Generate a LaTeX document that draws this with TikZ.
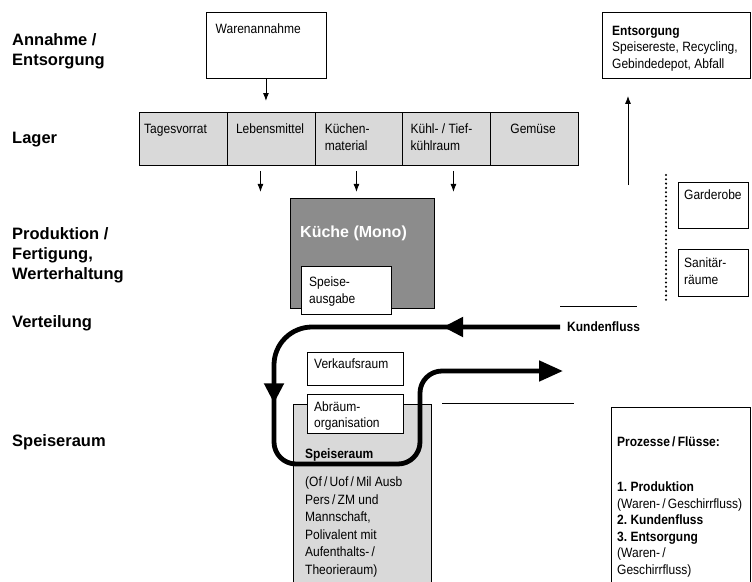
\documentclass[tikz,border=0pt]{standalone}
\usepackage{fontspec}
\setmainfont{Liberation Sans}[FakeStretch=0.89]
\newfontfamily\headfont{Liberation Sans}
\usetikzlibrary{arrows.meta,decorations.markings,positioning}
\definecolor{lagergrau}{gray}{0.85}
\definecolor{kuechengrau}{gray}{0.55}
\frenchspacing
\tikzset{
  box/.style={draw, line width=0.9pt, anchor=north west, inner sep=0pt},
  txt/.style={anchor=north west, inner xsep=8pt, inner ysep=11pt, align=left, font=\fontsize{13.5}{16.5}\selectfont},
  side/.style={anchor=north west, inner sep=0pt, align=left, font=\headfont\bfseries\fontsize{16.5}{20}\selectfont},
  arr/.style={line width=0.9pt, -{Latex[length=8pt,width=6pt]}},
  flow/.style={line width=4.8pt},
  flowtip/.style={-{Triangle[length=24pt,width=20pt]}},
  dotline/.style={line width=2.3pt, dash pattern=on 0pt off 4.3pt, line cap=round},
}
\begin{document}
\begin{tikzpicture}[x=1pt, y=-1pt]
\useasboundingbox (0,0) rectangle (752,581);

\node[side] (annahme) at (12,33) {Annahme /\\Entsorgung};
\node[side] (lager) at (12,132) {Lager};
\node[side] (produktion) at (12,227) {Produktion /\\Fertigung,\\Werterhaltung};
\node[side] (verteilung) at (12,315) {Verteilung};
\node[side] (speisesaal) at (12,434) {Speiseraum};

\node[box, minimum width=120pt, minimum height=66pt,
  label={[txt, inner xsep=10pt, inner ysep=12pt]north west:Warenannahme}] (waren) at (205.5,12) {};

\foreach \name/\dx [count=\i from 0] in {Tagesvorrat/5, Lebensmittel/9, {Küchen-\\material}/10, {Kühl- / Tief-\\kühlraum}/8, Gemüse/20}
  \node[box, fill=lagergrau, minimum width=87.8pt, minimum height=53pt,
    label={[txt, inner xsep=\dx pt, inner ysep=12pt]north west:\name}] (lager\i) at (139+87.8*\i,112) {};

\draw[arr] (waren.south) -- ([yshift=11pt]waren.south |- lager0.north);
\foreach \i/\dx in {1/-10.7, 2/-2.5, 3/6.7}
  \draw[arr] ([xshift=\dx pt, yshift=-5pt]lager\i.south) -- ([xshift=\dx pt, yshift=-26pt]lager\i.south);

\node[box, fill=kuechengrau, minimum width=144pt, minimum height=110pt,
  label={[txt, inner xsep=10pt, inner ysep=28pt, text=white, font=\headfont\bfseries\fontsize{16}{19}\selectfont]north west:Küche (Mono)}] (kueche) at (290,198) {};
\node[box, fill=white, minimum width=90pt, minimum height=48pt,
  label={[txt]north west:Speise-\\ausgabe}] (ausgabe) at (301,266) {};

\node[box, fill=lagergrau, minimum width=138pt, minimum height=190pt] (raum) at (293,404) {};
\node[box, fill=white, minimum width=96pt, minimum height=33pt,
  label={[txt, inner xsep=7pt, inner ysep=7pt]north west:Verkaufsraum}] (verkauf) at (307,352) {};
\node[box, fill=white, minimum width=96pt, minimum height=39pt,
  label={[txt, inner xsep=7pt, inner ysep=8pt, font=\fontsize{13.5}{15.5}\selectfont]north west:Abräum-\\organisation}] (abraeum) at (307,394) {};
\node[txt, inner sep=0pt, font=\bfseries\fontsize{13.5}{16.5}\selectfont] (raumtitel) at (305,449) {Speiseraum};
\node[txt, inner sep=0pt, font=\fontsize{13.5}{17.5}\selectfont] (raumtext) at (305,477)
  {(Of\,/\,Uof\,/\,Mil Ausb\\Pers\,/\,ZM und\\Mannschaft,\\Polivalent mit\\Aufenthalts-\,/\\Theorieraum)};

\node[anchor=west, inner xsep=7pt, font=\bfseries\fontsize{13.5}{16}\selectfont] (kfluss) at (560,327) {Kundenfluss};
\coordinate (kende) at (563,371);
\draw[flow, flowtip, decoration={markings,
    mark=at position 117pt with {\arrow{Triangle[length=20pt,width=19pt]}},
    mark=at position 346pt with {\arrow{Triangle[length=20pt,width=19pt]}}},
  postaction={decorate}]
  (kfluss.west) [rounded corners=38pt] -- (274,327) [rounded corners=22pt] -- (274,464) -- (420,464) -- (420,371) -- (kende);

\draw[line width=0.8pt] (560,306) -- (637,306);
\draw[line width=0.8pt] (442,403) -- (574,403);

\node[box, minimum width=148pt, minimum height=66pt,
  label={[txt, inner xsep=10pt, inner ysep=14pt]north west:{\textbf{Entsorgung}\\Speisereste, Recycling,\\Gebindedepot, Abfall}}] (entsorgung) at (602,12) {};
\coordinate (entsfuss) at (628,185);
\draw[arr] (entsfuss) -- ([yshift=-17pt]entsorgung.south -| entsfuss);

\coordinate (punkt1) at (666,175);
\coordinate (punkt2) at (666,300);
\draw[dotline] (punkt1) -- (punkt2);

\node[box, minimum width=70pt, minimum height=46pt,
  label={[txt, inner xsep=6pt, inner ysep=8pt]north west:Garderobe}] (garderobe) at (678,182) {};
\node[box, minimum width=70pt, minimum height=47pt,
  label={[txt, inner xsep=6pt, inner ysep=9pt]north west:Sanitär-\\räume}] (sanitaer) at (678,249) {};

\node[box, minimum width=139pt, minimum height=185pt] (prozesse) at (611,407) {};
\node[txt, inner xsep=6pt, inner ysep=30pt, font=\fontsize{13.5}{16.6}\selectfont] (prozesstext) at (prozesse.north west)
  {\textbf{Prozesse\,/\,Flüsse:}\\[28pt]\textbf{1. Produktion}\\(Waren-\,/\,Geschirrfluss)\\\textbf{2. Kundenfluss}\\\textbf{3. Entsorgung}\\(Waren-\,/\\Geschirrfluss)};
\end{tikzpicture}
\end{document}
